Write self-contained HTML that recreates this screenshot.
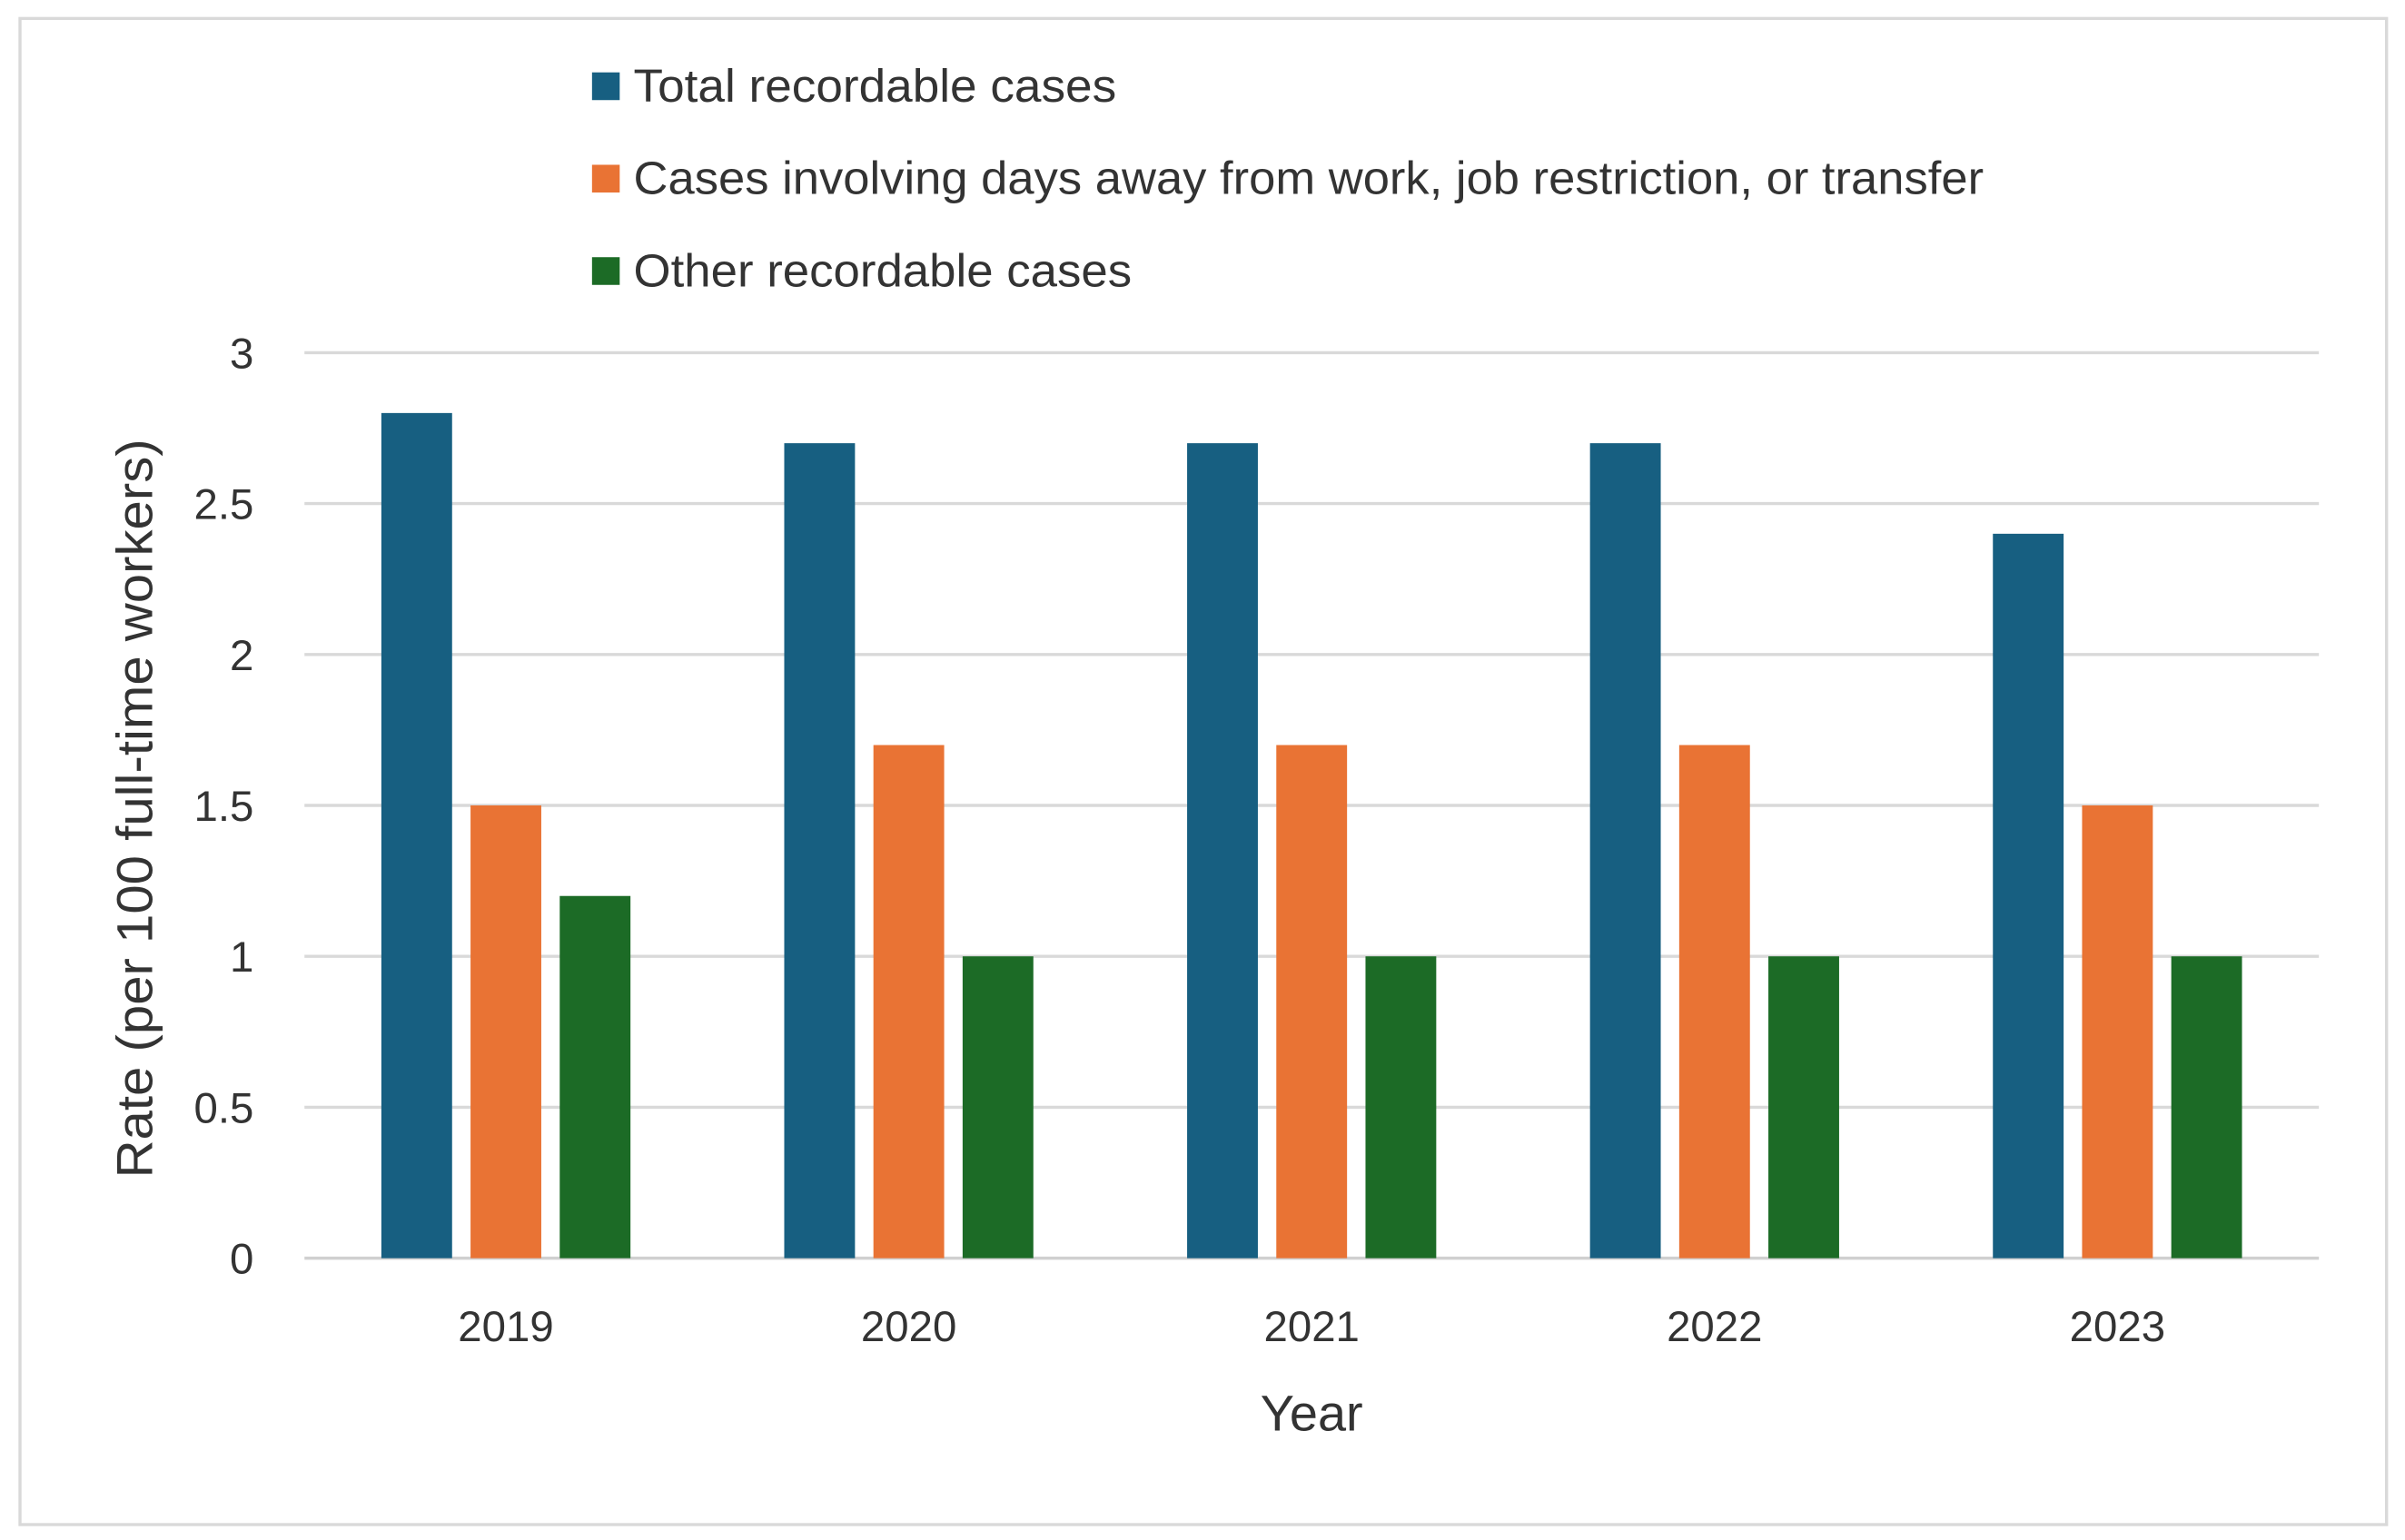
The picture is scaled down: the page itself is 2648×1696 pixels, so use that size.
<!DOCTYPE html>
<html><head><meta charset="utf-8"><style>
html,body{margin:0;padding:0;background:#fff;}
svg{display:block;font-family:"Liberation Sans","DejaVu Sans",sans-serif;}
</style></head><body>
<svg id="chart" width="2648" height="1696" viewBox="0 0 1564 1000" preserveAspectRatio="none" xmlns="http://www.w3.org/2000/svg">
<rect x="13" y="12" width="1539" height="978" fill="#fff" stroke="#d9d9d9" stroke-width="2"/>
<g id="grid"></g>
<g id="bars"></g>
<g id="xlabels"></g>
<g id="ylabels"></g>
<text x="853" y="929" font-size="33" text-anchor="middle" fill="#333">Year</text>
<text transform="translate(99,525) rotate(-90)" font-size="33" text-anchor="middle" fill="#333" textLength="480" lengthAdjust="spacingAndGlyphs">Rate (per 100 full-time workers)</text>
<g id="legend"></g>
</svg>
<script>
const categories = ["2019","2020","2021","2022","2023"];
const seriesNames = ["Total recordable cases","Cases involving days away from work, job restriction, or transfer","Other recordable cases"];
const totalCases = [2.8,2.7,2.7,2.7,2.4];
const daysAwayCases = [1.5,1.7,1.7,1.7,1.5];
const otherCases = [1.2,1.0,1.0,1.0,1.0];
const yTicks = [0,0.5,1,1.5,2,2.5,3];
const yTickLabels = ["0","0.5","1","1.5","2","2.5","3"];

const colors = ["#175f81","#e97334","#1c6b26"];
const legendWidths = [314, 878, 324];
const NS = "http://www.w3.org/2000/svg";
const x0 = 198, x1 = 1508, yBase = 817, yTop = 229, yMax = 3;
const band = (x1 - x0) / categories.length;
const yScale = v => yBase - (v / yMax) * (yBase - yTop);
const xBand = i => x0 + i * band;
function mk(tag, attrs, parent){ const e=document.createElementNS(NS,tag); for(const k in attrs) e.setAttribute(k,attrs[k]); parent.appendChild(e); return e; }

const grid = document.getElementById('grid');
const yl = document.getElementById('ylabels');
yTicks.forEach((t,i)=>{
  const l = mk('line',{x1:x0,x2:x1,y1:yScale(t),y2:yScale(t),stroke:t===0?'#d0d0d0':'#d9d9d9','stroke-width':2},grid);
  
  
  const tx = mk('text',{x:165,y:yScale(t)+10,'font-size':28,'text-anchor':'end',fill:'#333'},yl);
  tx.textContent = yTickLabels[i];
  
  
});

const bars = document.getElementById('bars');
const series = [totalCases, daysAwayCases, otherCases];
const barW = 46, gap = 12, offset = 50;
categories.forEach((c,i)=>{
  series.forEach((s,j)=>{
    const x = xBand(i) + offset + j*(barW+gap);
    const r = mk('rect',{x:x,y:yScale(s[i]),width:barW,height:yBase-yScale(s[i]),fill:colors[j]},bars);
    
    
  });
  const t = mk('text',{x:xBand(i)+band/2,y:871,'font-size':28,'text-anchor':'middle',fill:'#333'},document.getElementById('xlabels'));
  t.textContent = c;
  
  
});

const lg = document.getElementById('legend');
seriesNames.forEach((n,j)=>{
  const cy = 56 + j*60;
  const r = mk('rect',{x:385,y:cy-9,width:18,height:18,fill:colors[j]},lg);
  
  
  const t = mk('text',{x:412,y:cy+10,'font-size':30,fill:'#333',textLength:legendWidths[j],lengthAdjust:'spacingAndGlyphs'},lg);
  t.textContent = n;
  
  
});
</script>
</body></html>
